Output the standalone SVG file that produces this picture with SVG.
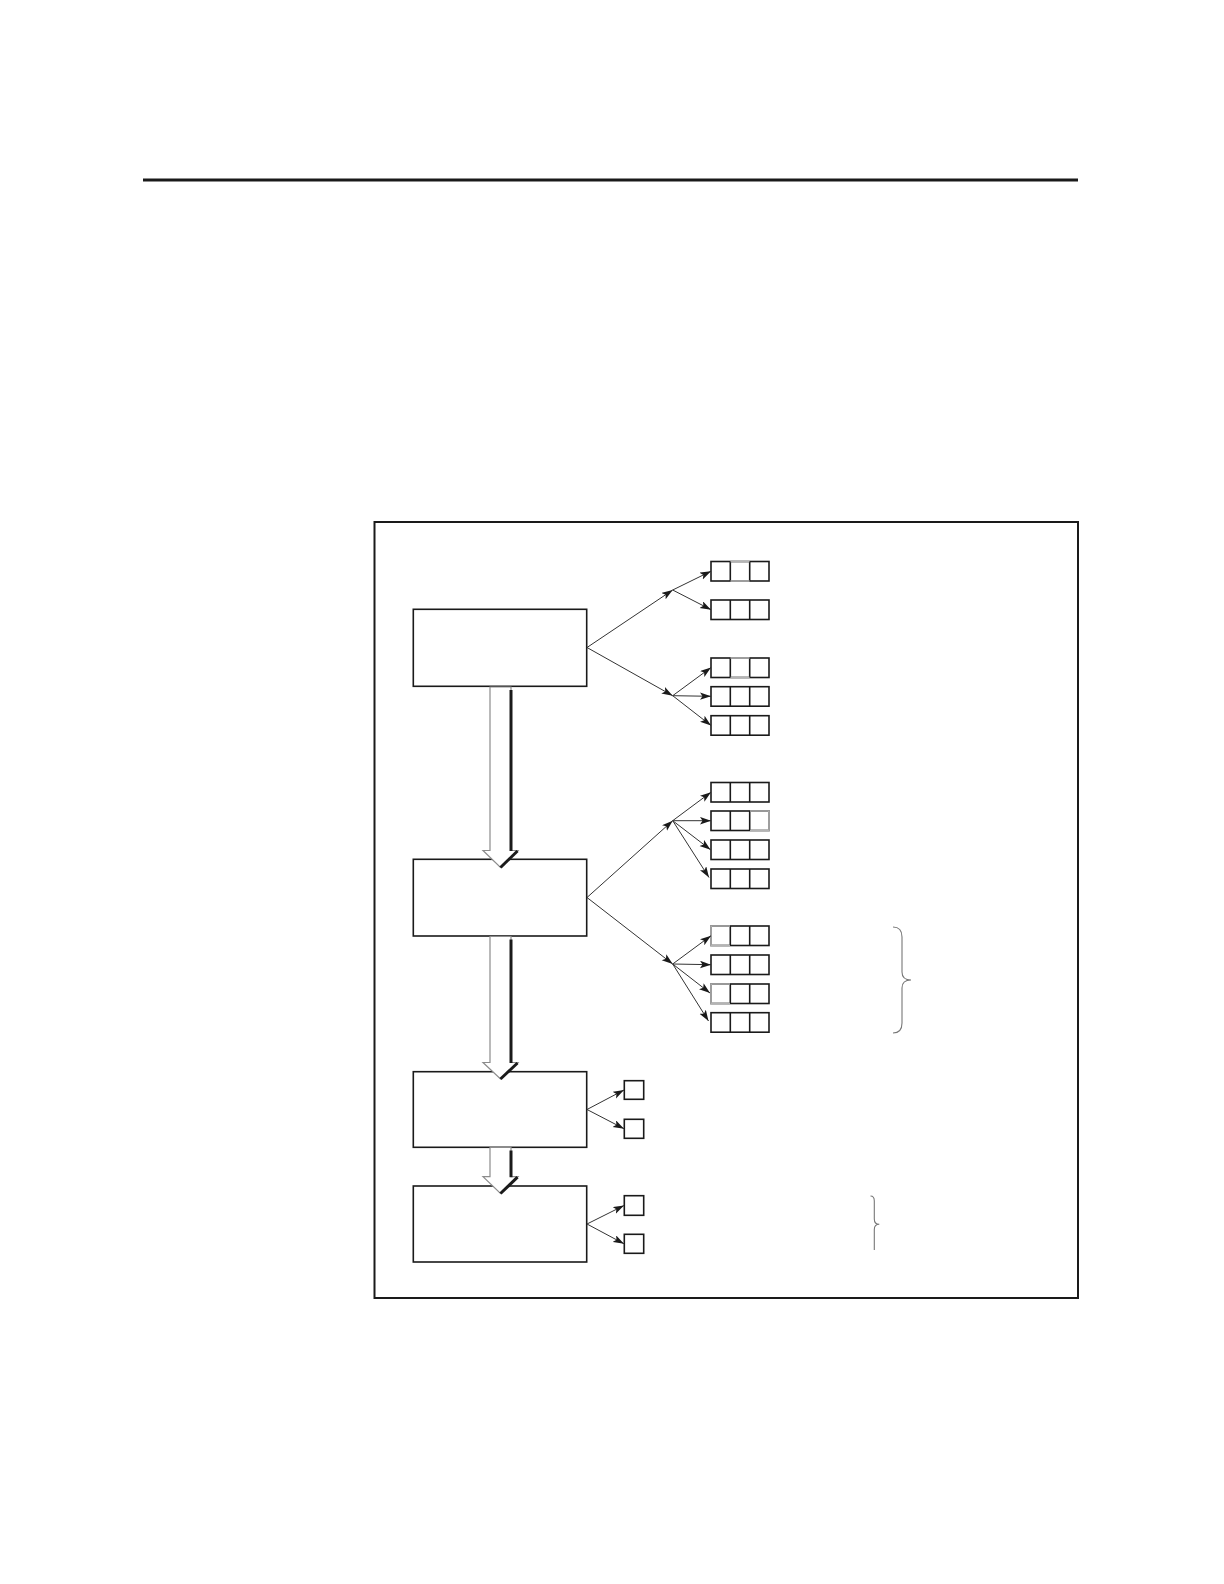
<svg xmlns="http://www.w3.org/2000/svg" xmlns:xlink="http://www.w3.org/1999/xlink" width="1224" height="1584" viewBox="0 0 1224 1584">
<style>
.box{fill:#fff;stroke:#1a1a1a;stroke-width:1.6}
.cell{fill:none;stroke:#1a1a1a;stroke-width:1.6}
.faint{fill:none;stroke:#b4b4b4;stroke-width:1.6}
.con{fill:none;stroke:#333;stroke-width:1;marker-end:url(#ah)}
.hol{fill:#fff;stroke:#8c8c8c;stroke-width:1.2}
.sh{fill:none;stroke:#1a1a1a;stroke-width:3}
.brace{fill:none;stroke:#777;stroke-width:1.1}
</style>
<defs>
<marker id="ah" markerUnits="userSpaceOnUse" markerWidth="12" markerHeight="8" refX="11" refY="3.75" orient="auto">
<path d="M0,0 L11,3.75 L0,7.5 L2.5,3.75 z" fill="#1a1a1a"/>
</marker>
<g id="tri">
<rect class="cell" x="0" y="0" width="58" height="19.5"/>
<line class="cell" x1="19.3" y1="0" x2="19.3" y2="19.5"/>
<line class="cell" x1="38.7" y1="0" x2="38.7" y2="19.5"/>
</g>
</defs>
<rect width="1224" height="1584" fill="#fff"/>
<line x1="143" y1="180" x2="1078" y2="180" stroke="#1a1a1a" stroke-width="3"/>
<rect id="frame" x="374.5" y="522" width="703.5" height="776" fill="none" stroke="#1a1a1a" stroke-width="2"/>

<g id="nodes">
<g id="boxA"><rect class="box" x="413.3" y="609.3" width="173.4" height="77"/></g>
<g id="boxB"><rect class="box" x="413.3" y="859.3" width="173.4" height="76.7"/></g>
<g id="boxC"><rect class="box" x="413.3" y="1071.7" width="173.4" height="75.6"/></g>
<g id="boxD"><rect class="box" x="413.3" y="1186" width="173.4" height="76"/></g>

<g id="a1"><use xlink:href="#tri" x="711" y="561.5"/><line class="faint" x1="730.5" y1="561.5" x2="749.5" y2="561.5"/><line class="faint" x1="730.5" y1="581" x2="749.5" y2="581"/></g>
<g id="a2"><use xlink:href="#tri" x="711" y="600"/></g>
<g id="a3"><use xlink:href="#tri" x="711" y="658"/><line class="faint" x1="730.5" y1="658" x2="749.5" y2="658"/><line class="faint" x1="730.5" y1="677.5" x2="749.5" y2="677.5"/></g>
<g id="a4"><use xlink:href="#tri" x="711" y="686.7"/></g>
<g id="a5"><use xlink:href="#tri" x="711" y="715.7"/></g>

<g id="b1"><use xlink:href="#tri" x="711" y="782.5"/></g>
<g id="b2"><use xlink:href="#tri" x="711" y="811"/><path class="faint" d="M750,811 H769 V830.5 H750"/></g>
<g id="b3"><use xlink:href="#tri" x="711" y="840"/></g>
<g id="b4"><use xlink:href="#tri" x="711" y="869"/></g>
<g id="b5"><use xlink:href="#tri" x="711" y="926"/><path class="faint" d="M730,926 H711 V945.5 H730"/></g>
<g id="b6"><use xlink:href="#tri" x="711" y="955"/></g>
<g id="b7"><use xlink:href="#tri" x="711" y="984"/><path class="faint" d="M730,984 H711 V1003.5 H730"/></g>
<g id="b8"><use xlink:href="#tri" x="711" y="1012.7"/></g>

<g id="c1"><rect class="cell" x="624.3" y="1080.7" width="19.4" height="18.6"/></g>
<g id="c2"><rect class="cell" x="624.3" y="1119.3" width="19.4" height="19"/></g>
<g id="d1"><rect class="cell" x="624.3" y="1195.7" width="19.4" height="19.6"/></g>
<g id="d2"><rect class="cell" x="624.3" y="1234.3" width="19.4" height="19"/></g>
</g>

<g id="connectors">
<line class="con" x1="587" y1="647.5" x2="672.7" y2="590"/>
<line class="con" x1="587" y1="647.5" x2="672.7" y2="695.7"/>
<line class="con" x1="672.7" y1="590" x2="711" y2="571.2"/>
<line class="con" x1="672.7" y1="590" x2="711" y2="609.7"/>
<line class="con" x1="672.7" y1="695.7" x2="711" y2="667.5"/>
<line class="con" x1="672.7" y1="695.7" x2="711" y2="696.3"/>
<line class="con" x1="672.7" y1="695.7" x2="711" y2="725.5"/>

<line class="con" x1="587" y1="897.5" x2="672.7" y2="820.7"/>
<line class="con" x1="587" y1="897.5" x2="672.7" y2="964"/>
<line class="con" x1="672.7" y1="820.7" x2="711" y2="792.2"/>
<line class="con" x1="672.7" y1="820.7" x2="711" y2="820.7"/>
<line class="con" x1="672.7" y1="820.7" x2="710.5" y2="849.7"/>
<line class="con" x1="672.7" y1="820.7" x2="709" y2="877.5"/>
<line class="con" x1="672.7" y1="964" x2="711" y2="935.7"/>
<line class="con" x1="672.7" y1="964" x2="711" y2="964.7"/>
<line class="con" x1="672.7" y1="964" x2="710" y2="993"/>
<line class="con" x1="672.7" y1="964" x2="708.5" y2="1021"/>

<line class="con" x1="587" y1="1109.5" x2="624" y2="1090"/>
<line class="con" x1="587" y1="1109.5" x2="624" y2="1128.7"/>
<line class="con" x1="587" y1="1224" x2="624" y2="1205.5"/>
<line class="con" x1="587" y1="1224" x2="624" y2="1243.8"/>

<g id="flow1">
<polygon class="hol" points="490,687 490,850.5 483,850.5 500.5,867.5 518,850.5 511,850.5 511,687"/>
<line class="sh" x1="511" y1="690" x2="511" y2="851"/>
<line class="sh" x1="517.5" y1="851" x2="500.5" y2="867.5"/>
</g>
<g id="flow2">
<polygon class="hol" points="490,936.5 490,1062.5 483,1062.5 500.5,1079 518,1062.5 511,1062.5 511,936.5"/>
<line class="sh" x1="511" y1="939.5" x2="511" y2="1063"/>
<line class="sh" x1="517.5" y1="1063" x2="500.5" y2="1079"/>
</g>
<g id="flow3">
<polygon class="hol" points="490,1147.5 490,1176.7 483,1176.7 500.5,1193.5 518,1176.7 511,1176.7 511,1147.5"/>
<line class="sh" x1="511" y1="1150.5" x2="511" y2="1177.2"/>
<line class="sh" x1="517.5" y1="1177.2" x2="500.5" y2="1193.5"/>
</g>
</g>

<g id="braces">
<path class="brace" d="M893,927 C899,927 902,930 902,937 L902,972 C902,977 905,980 911,980 C905,980 902,983 902,988 L902,1023 C902,1030 899,1033 893,1033"/>
<path class="brace" d="M870.5,1196 C873,1196 874.3,1198 874.3,1201 L874.3,1219 C874.3,1222 876,1224.3 879.3,1224.3 C876,1224.3 874.3,1226.5 874.3,1229.5 L874.3,1250"/>
</g>
</svg>
